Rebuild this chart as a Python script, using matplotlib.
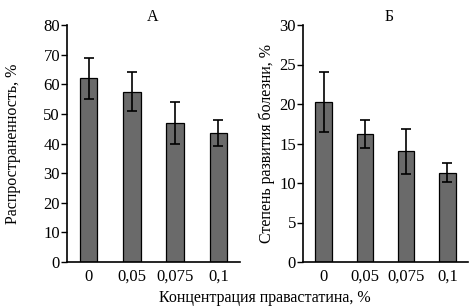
import numpy as np
import matplotlib.pyplot as plt

plt.rcParams['font.family'] = ['Liberation Serif', 'DejaVu Serif']
plt.rcParams['font.size'] = 12

concentrations = ['0', '0,05', '0,075', '0,1']
prevalence = [62, 57.5, 47, 43.5]
prevalence_err = [7, 6.5, 7, 4.5]
severity = [20.3, 16.2, 14.0, 11.3]
severity_err = [3.8, 1.8, 2.8, 1.2]

fig = plt.figure(figsize=(4.76, 3.08), dpi=100)
ax1 = fig.add_axes([67/476, 1-262/308, 173/476, 237/308])
ax2 = fig.add_axes([303/476, 1-262/308, 165/476, 237/308])

def draw_panel(ax, values, errs, ymax, step, title, ylabel, title_x, label_x):
    x = np.arange(len(values))
    ax.bar(x, values, width=0.4, color='#6a6a6a', edgecolor='black', linewidth=0.9,
           yerr=errs, capsize=3.8, error_kw=dict(elinewidth=1.2, capthick=1.2, ecolor='black'))
    ax.set_xlim(-0.5, 3.5)
    ax.set_ylim(0, ymax)
    ax.set_yticks(np.arange(0, ymax + 1, step))
    ax.set_xticks(x)
    ax.set_xticklabels(concentrations)
    ax.tick_params(axis='x', length=0, pad=5, labelsize=12)
    ax.tick_params(axis='y', length=4, width=1, pad=1, labelsize=12)
    for s in ['top', 'right']:
        ax.spines[s].set_visible(False)
    ax.spines['left'].set_linewidth(1.2)
    ax.spines['bottom'].set_linewidth(1.2)
    ax.text(title_x, 1.035, title, transform=ax.transAxes, ha='center', va='center', fontsize=11.5)
    ax.set_ylabel(ylabel, fontsize=11.5)
    ax.yaxis.set_label_coords(label_x, 0.5)

draw_panel(ax1, prevalence, prevalence_err, 80, 10, 'А', 'Распространенность, %', 0.497, -0.265)
draw_panel(ax2, severity, severity_err, 30, 5, 'Б', 'Степень развития болезни, %', 0.52, -0.17)

fig.text(265/476, 1-298/308, 'Концентрация правастатина, %', ha='center', va='center', fontsize=11.5)

fig.savefig('out.png', dpi=100)
